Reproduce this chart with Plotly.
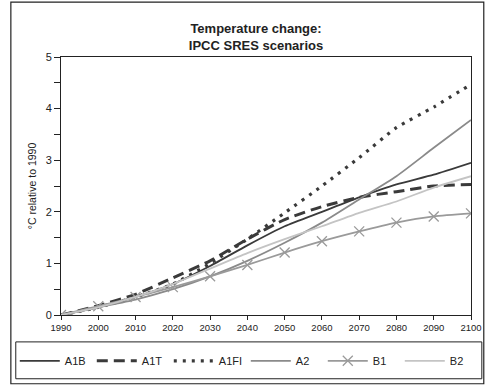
import plotly.graph_objects as go

years = [1990, 2000, 2010, 2020, 2030, 2040, 2050, 2060, 2070, 2080, 2090, 2100]
a1b = [0, 0.15, 0.35, 0.60, 0.95, 1.35, 1.72, 2.00, 2.28, 2.53, 2.72, 2.95]
a1t = [0, 0.18, 0.40, 0.72, 1.05, 1.47, 1.85, 2.10, 2.28, 2.39, 2.50, 2.53]
a1fi = [0, 0.15, 0.35, 0.60, 1.00, 1.47, 1.98, 2.50, 3.05, 3.63, 4.03, 4.47]
a2 = [0, 0.15, 0.30, 0.50, 0.75, 1.05, 1.40, 1.79, 2.24, 2.69, 3.24, 3.78]
b1 = [0, 0.17, 0.35, 0.54, 0.75, 0.97, 1.21, 1.43, 1.62, 1.79, 1.91, 1.97]
b2 = [0, 0.15, 0.35, 0.60, 0.90, 1.20, 1.47, 1.72, 1.98, 2.20, 2.47, 2.69]

y_ticks = [0, 1, 2, 3, 4, 5]
x_ticks = years

fig = go.Figure()
font = "Liberation Sans, Arial, sans-serif"

def add(name, y, color, width, dash="solid", marker=None):
    kw = dict(x=years, y=y, name=name, mode="lines",
              line=dict(color=color, width=width, dash=dash, shape="spline", smoothing=0.6))
    if marker:
        kw["mode"] = "lines+markers"
        kw["marker"] = marker
    fig.add_trace(go.Scatter(**kw))

add("A1B", a1b, "#3a3a3a", 1.8)
add("A1T", a1t, "#3a3a3a", 3, dash="11px,6px")
add("A1FI", a1fi, "#3a3a3a", 3.2, dash="3px,6px")
add("A2", a2, "#8a8a8a", 1.8)
add("B1", b1, "#9a9a9a", 1.8, marker=dict(symbol="x-thin", size=10, line=dict(color="#9a9a9a", width=1.3)))
add("B2", b2, "#c4c4c4", 1.8)

minor = [0.5, 1.5, 2.5, 3.5, 4.5]
fig.update_layout(
    width=494, height=387,
    margin=dict(l=61, r=16, t=57, b=71),
    paper_bgcolor="white", plot_bgcolor="white",
    font=dict(family=font, size=10, color="#222"),
    title=dict(text="<b>Temperature change:<br>IPCC SRES scenarios</b>",
               x=256/494, xanchor="center", y=1-33/387, yanchor="middle",
               font=dict(size=13, family=font, color="#222")),
    showlegend=True,
    legend=dict(orientation="h", x=(14-61)/417, xanchor="left",
                y=(316-362)/259, yanchor="middle",
                borderwidth=0, bgcolor="rgba(0,0,0,0)",
                entrywidth=22, font=dict(size=11, family=font, color="#222"),
                itemwidth=40, tracegroupgap=0),
    xaxis=dict(range=[1990, 2100], tickvals=x_ticks, ticks="outside", ticklen=4,
               showline=True, linecolor="#222", linewidth=1, mirror=True,
               showgrid=False, zeroline=False, tickfont=dict(size=9.5, color="#222"),
               tickcolor="#222"),
    yaxis=dict(range=[0, 5], tickvals=y_ticks, ticks="outside", ticklen=6,
               showline=True, linecolor="#222", linewidth=1, mirror=True,
               showgrid=False, zeroline=False, tickfont=dict(size=11, color="#222"),
               tickcolor="#222",
               minor=dict(tickvals=minor, ticks="outside", ticklen=6, tickcolor="#222"),
               title=dict(text="°C relative to 1990", font=dict(size=10.5, color="#222"), standoff=6)),
)
# outer chart frame
fig.add_shape(type="rect", xref="paper", yref="paper",
              x0=(10-61)/417, x1=(491-61)/417, y0=(316-385)/259, y1=(316-2)/259,
              line=dict(color="#222", width=1.2), fillcolor="rgba(0,0,0,0)", layer="below")
# legend frame
fig.add_shape(type="rect", xref="paper", yref="paper",
              x0=(15-61)/417, x1=(489-61)/417, y0=(316-380)/259, y1=(316-343)/259,
              line=dict(color="#222", width=1), fillcolor="rgba(0,0,0,0)", layer="below")

fig.write_html("out.html")
